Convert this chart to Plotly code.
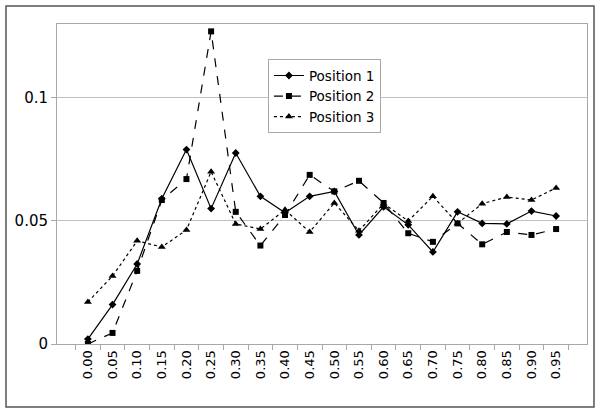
import plotly.graph_objects as go

categories = ["0.00", "0.05", "0.10", "0.15", "0.20", "0.25", "0.30", "0.35", "0.40", "0.45",
              "0.50", "0.55", "0.60", "0.65", "0.70", "0.75", "0.80", "0.85", "0.90", "0.95"]

position_1 = [0.002, 0.016, 0.0325, 0.059, 0.079, 0.055, 0.0776, 0.060, 0.0533, 0.060,
              0.062, 0.0443, 0.0557, 0.0484, 0.0374, 0.0537, 0.049, 0.0488, 0.054, 0.052]
position_2 = [0.0, 0.0045, 0.0297, 0.0585, 0.067, 0.127, 0.0537, 0.040, 0.0524, 0.0687,
              0.062, 0.0663, 0.0573, 0.045, 0.0415, 0.049, 0.0405, 0.0455, 0.0443, 0.0467]
position_3 = [0.0171, 0.0276, 0.0419, 0.0394, 0.0463, 0.070, 0.0488, 0.0467, 0.0545, 0.0455,
              0.0573, 0.046, 0.057, 0.050, 0.060, 0.049, 0.057, 0.0597, 0.0585, 0.0634]

series = [
    ("Position 1", position_1, "solid", "diamond", 6),
    ("Position 2", position_2, "dash", "square", 6),
    ("Position 3", position_3, "dot", "triangle-up", 7),
]

fig = go.Figure()
for name, vals, dash, sym, size in series:
    fig.add_trace(go.Scatter(
        x=categories, y=vals, name=name, mode="lines+markers",
        line=dict(color="black", width=1.2, dash=dash),
        marker=dict(symbol=sym, size=size, color="black"),
    ))

axis_gray = "#a8a8a8"
fig.update_layout(
    width=600, height=411,
    margin=dict(l=57, r=13, t=24, b=67),
    paper_bgcolor="white", plot_bgcolor="white",
    font=dict(family="DejaVu Sans", size=13, color="black"),
    showlegend=True,
    legend=dict(x=0.398, y=0.89, xanchor="left", yanchor="top",
                bordercolor=axis_gray, borderwidth=1, bgcolor="white",
                font=dict(size=13.5), tracegroupgap=0),
    xaxis=dict(type="category", tickangle=-90, ticks="outside", tickson="boundaries",
               ticklen=5, tickcolor=axis_gray, showline=True, linecolor=axis_gray,
               mirror=True, showgrid=False, tickfont=dict(size=13), automargin=False),
    yaxis=dict(range=[0, 0.13], dtick=0.05, ticks="outside", ticklen=5,
               tickcolor=axis_gray, showline=True, linecolor=axis_gray, mirror=True,
               showgrid=True, gridcolor="#c0c0c0", zeroline=False, tickfont=dict(size=15),
               automargin=False),
    shapes=[dict(type="rect", xref="paper", yref="paper",
                 x0=(6 - 57) / 530, x1=(594 - 57) / 530,
                 y0=(344 - 407) / 320, y1=(344 - 6) / 320,
                 line=dict(color="#555555", width=1.5), layer="below")],
)

# drop the page's default 8px body margin so the figure sits at the window corner
fig.write_html("out.html", config={"displayModeBar": False},
               post_script="document.body.style.margin='0';")
